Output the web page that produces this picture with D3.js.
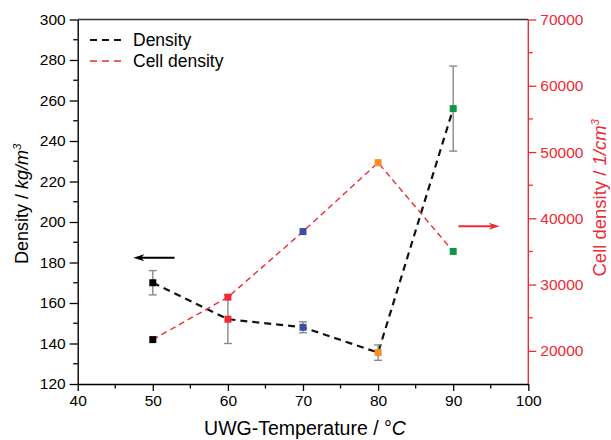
<!DOCTYPE html>
<html>
<head>
<meta charset="utf-8">
<script src="https://cdn.jsdelivr.net/npm/d3@7"></script>
<style>
  body { margin: 0; background: #fff; }
  text { font-family: "Liberation Sans", Arial, sans-serif; }
</style>
</head>
<body>
<svg id="chart" width="611" height="440"></svg>
<script>
// UWG foaming temperature (°C)
const temperatures = [50, 60, 70, 80, 90];
// Foam density (kg/m³) with standard deviation
const densityValues = [170, 152, 148, 135.5, 256];
const densityErrors = [6, 12, 2.7, 3.8, 21];
// Cell density (1/cm³)
const cellDensityValues = [21700, 28100, 38000, 48400, 35000];
// One marker colour per temperature
const markerColors = ["#000000", "#ee2a33", "#3f4ea3", "#f7901e", "#139447"];

const xTicks = [40, 50, 60, 70, 80, 90, 100];
const leftTicks = [120, 140, 160, 180, 200, 220, 240, 260, 280, 300];
const rightTicks = [20000, 30000, 40000, 50000, 60000, 70000];

const RED = "#ee2a33";
const svg = d3.select("#chart");
const m = { left: 77.7, right: 528.3, top: 19.5, bottom: 384 };

const x = d3.scaleLinear().domain([40, 100]).range([m.left, m.right]);
const yL = d3.scaleLinear().domain([120, 300]).range([m.bottom, m.top]);
const yR = d3.scaleLinear().domain([15000, 70000]).range([m.bottom, m.top]);

// top frame line
svg.append("line")
  .attr("x1", m.left).attr("x2", m.right)
  .attr("y1", m.top).attr("y2", m.top)
  .attr("stroke", "#333").attr("stroke-width", 1.3);

function styleAxis(g, color, fontSize) {
  g.select(".domain").attr("stroke", color).attr("stroke-width", 1.4);
  g.selectAll(".tick line").attr("stroke", color).attr("stroke-width", 1.3);
  g.selectAll(".tick text").attr("fill", color)
    .style("font-size", fontSize + "px")
    .style("font-family", "'Liberation Sans', Arial, sans-serif");
}

// minor ticks
const xMinor = d3.range(45, 100, 10);
svg.append("g").selectAll("line").data(xMinor).join("line")
  .attr("x1", d => x(d)).attr("x2", d => x(d))
  .attr("y1", m.bottom).attr("y2", m.bottom + 4.5)
  .attr("stroke", "#000").attr("stroke-width", 1.3);
const lMinor = d3.range(130, 300, 20);
svg.append("g").selectAll("line").data(lMinor).join("line")
  .attr("x1", m.left - 4.5).attr("x2", m.left)
  .attr("y1", d => yL(d)).attr("y2", d => yL(d))
  .attr("stroke", "#000").attr("stroke-width", 1.3);
const rMinor = d3.range(25000, 70000, 10000);
svg.append("g").selectAll("line").data(rMinor).join("line")
  .attr("x1", m.right).attr("x2", m.right + 4.5)
  .attr("y1", d => yR(d)).attr("y2", d => yR(d))
  .attr("stroke", RED).attr("stroke-width", 1.3);

// axes
const gx = svg.append("g").attr("transform", `translate(0,${m.bottom})`)
  .call(d3.axisBottom(x).tickValues(xTicks).tickSize(7).tickPadding(4).tickSizeOuter(0));
styleAxis(gx, "#000", 15.5);
const gl = svg.append("g").attr("transform", `translate(${m.left},0)`)
  .call(d3.axisLeft(yL).tickValues(leftTicks).tickSize(8).tickPadding(4).tickSizeOuter(0));
styleAxis(gl, "#000", 15.5);
const gr = svg.append("g").attr("transform", `translate(${m.right},0)`)
  .call(d3.axisRight(yR).tickValues(rightTicks).tickFormat(d3.format("d"))
    .tickSize(8).tickPadding(4).tickSizeOuter(0));
styleAxis(gr, RED, 15.5);
gr.select(".domain").attr("d", `M0,${m.bottom}V${m.top}`);

// axis titles
const xt = svg.append("text").attr("x", (m.left + m.right) / 2 + 2).attr("y", 435)
  .attr("text-anchor", "middle").style("font-size", "19.5px").attr("fill", "#000");
xt.append("tspan").text("UWG-Temperature / °");
xt.append("tspan").attr("font-style", "italic").text("C");

const lt = svg.append("text")
  .attr("transform", `translate(28,${(m.top + m.bottom) / 2 + 2}) rotate(-90)`)
  .attr("text-anchor", "middle").style("font-size", "18px").attr("fill", "#000");
lt.append("tspan").text("Density / ");
lt.append("tspan").attr("font-style", "italic").text("kg/m");
lt.append("tspan").attr("font-style", "italic").attr("dy", -7).style("font-size", "11.5px").text("3");

const rt = svg.append("text")
  .attr("transform", `translate(606,${(m.top + m.bottom) / 2 - 4}) rotate(-90)`)
  .attr("text-anchor", "middle").style("font-size", "18.5px").attr("fill", RED);
rt.append("tspan").text("Cell density / ");
rt.append("tspan").attr("font-style", "italic").text("1/cm");
rt.append("tspan").attr("font-style", "italic").attr("dy", -7).style("font-size", "11.5px").text("3");

// series lines
const density = temperatures.map((t, i) => ({ t, v: densityValues[i], e: densityErrors[i], c: markerColors[i] }));
const cells = temperatures.map((t, i) => ({ t, v: cellDensityValues[i], c: markerColors[i] }));

svg.append("path").datum(density)
  .attr("d", d3.line().x(d => x(d.t)).y(d => yL(d.v)))
  .attr("fill", "none").attr("stroke", "#111").attr("stroke-width", 2.2)
  .attr("stroke-dasharray", "7,5");
svg.append("path").datum(cells)
  .attr("d", d3.line().x(d => x(d.t)).y(d => yR(d.v)))
  .attr("fill", "none").attr("stroke", RED).attr("stroke-width", 1.4)
  .attr("stroke-dasharray", "6,4");

// error bars on density
const eb = svg.append("g").attr("stroke", "#8a8a8a").attr("stroke-width", 1.4);
density.forEach(d => {
  eb.append("line").attr("x1", x(d.t)).attr("x2", x(d.t))
    .attr("y1", yL(d.v - d.e)).attr("y2", yL(d.v + d.e));
  [d.v - d.e, d.v + d.e].forEach(v => {
    eb.append("line").attr("x1", x(d.t) - 4).attr("x2", x(d.t) + 4)
      .attr("y1", yL(v)).attr("y2", yL(v));
  });
});

// markers
const S = 7;
svg.append("g").selectAll("rect").data(density).join("rect")
  .attr("x", d => x(d.t) - S / 2).attr("y", d => yL(d.v) - S / 2)
  .attr("width", S).attr("height", S).attr("fill", d => d.c);
svg.append("g").selectAll("rect").data(cells).join("rect")
  .attr("x", d => x(d.t) - S / 2).attr("y", d => yR(d.v) - S / 2)
  .attr("width", S).attr("height", S).attr("fill", d => d.c);

// axis-pointing arrows
function arrow(x1, x2, y, color) {
  const dir = Math.sign(x2 - x1);
  svg.append("line").attr("x1", x1).attr("x2", x2 - dir * 6).attr("y1", y).attr("y2", y)
    .attr("stroke", color).attr("stroke-width", 2);
  svg.append("path")
    .attr("d", `M${x2},${y}L${x2 - dir * 11},${y - 3.5}L${x2 - dir * 8},${y}L${x2 - dir * 11},${y + 3.5}Z`)
    .attr("fill", color);
}
arrow(x(52.9), x(47.4), yL(182.4), "#000");
arrow(x(90.7), x(96.2), yR(38800), RED);

// legend
const legend = [
  { label: "Density", color: "#111", w: 2.2, dash: "7,5" },
  { label: "Cell density", color: RED, w: 1.6, dash: "7,5" }
];
legend.forEach((d, i) => {
  const y = 40 + i * 21;
  svg.append("line").attr("x1", 90).attr("x2", 124).attr("y1", y).attr("y2", y)
    .attr("stroke", d.color).attr("stroke-width", d.w).attr("stroke-dasharray", d.dash);
  svg.append("text").attr("x", 133).attr("y", y + 6)
    .style("font-size", "17.5px").attr("fill", "#000").text(d.label);
});
</script>
</body>
</html>
